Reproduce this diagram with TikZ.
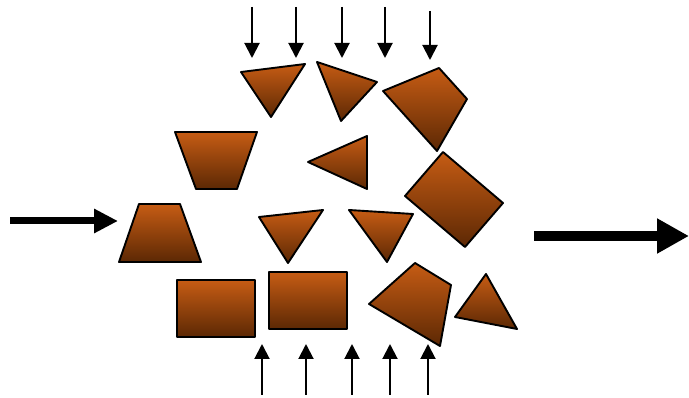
\documentclass[tikz,border=0pt]{standalone}
\usetikzlibrary{arrows.meta}
\definecolor{rust}{RGB}{198,92,20}
\definecolor{darkrust}{RGB}{92,40,4}
\tikzset{
  piece/.style={draw=black, line width=1.9pt, line join=round, top color=rust, bottom color=darkrust},
  thinarrow/.style={line width=2pt, -{Triangle[length=15pt,width=15pt]}},
  leftarrow/.style={line width=7pt, -{Triangle[length=24pt,width=23pt]}},
  rightarrow/.style={line width=10pt, -{Triangle[length=32pt,width=33pt]}}
}
\begin{document}
\begin{tikzpicture}[x=1pt,y=-1pt]
\useasboundingbox (0,0) rectangle (689,398);
% pieces
\path[piece] (241,72)--(305,64)--(271,117)--cycle;
\path[piece] (175,132)--(257,132)--(237,189)--(196,189)--cycle;
\path[piece] (317,62)--(377,82)--(341,121)--cycle;
\path[piece] (383,91)--(439,68)--(467,99)--(437,151)--cycle;
\path[piece] (308,162)--(367,136)--(367,189)--cycle;
\path[piece] (443,152)--(503,203)--(465,247)--(405,196)--cycle;
\path[piece] (139,204)--(180,204)--(201,262)--(119,262)--cycle;
\path[piece] (259,217)--(323,210)--(288,263)--cycle;
\path[piece] (177,280) rectangle (255,337);
\path[piece] (269,272) rectangle (347,329);
\path[piece] (349,210)--(413,214)--(387,262)--cycle;
\path[piece] (369,304)--(415,263)--(451,285)--(440,346)--cycle;
\path[piece] (455,317)--(486,274)--(517,329)--cycle;
% top arrows
\coordinate (ts1) at (252,7);  \coordinate (te1) at (252,58);
\coordinate (ts2) at (296,7);  \coordinate (te2) at (296,58);
\coordinate (ts3) at (342,7);  \coordinate (te3) at (342,58);
\coordinate (ts4) at (385,7);  \coordinate (te4) at (385,58);
\coordinate (ts5) at (430,11); \coordinate (te5) at (430,60);
\foreach \i in {1,...,5} \draw[thinarrow] (ts\i) -- (te\i);
% bottom arrows
\coordinate (bs1) at (262,395); \coordinate (be1) at (262,344);
\coordinate (bs2) at (306,395); \coordinate (be2) at (306,344);
\coordinate (bs3) at (352,395); \coordinate (be3) at (352,344);
\coordinate (bs4) at (390,395); \coordinate (be4) at (390,344);
\coordinate (bs5) at (428,395); \coordinate (be5) at (428,344);
\foreach \i in {1,...,5} \draw[thinarrow] (bs\i) -- (be\i);
% side arrows
\coordinate (ls) at (10,221); \coordinate (le) at (118,221);
\draw[leftarrow] (ls) -- (le);
\coordinate (rs) at (534,236); \coordinate (re) at (689,236);
\draw[rightarrow] (rs) -- (re);
\end{tikzpicture}
\end{document}
